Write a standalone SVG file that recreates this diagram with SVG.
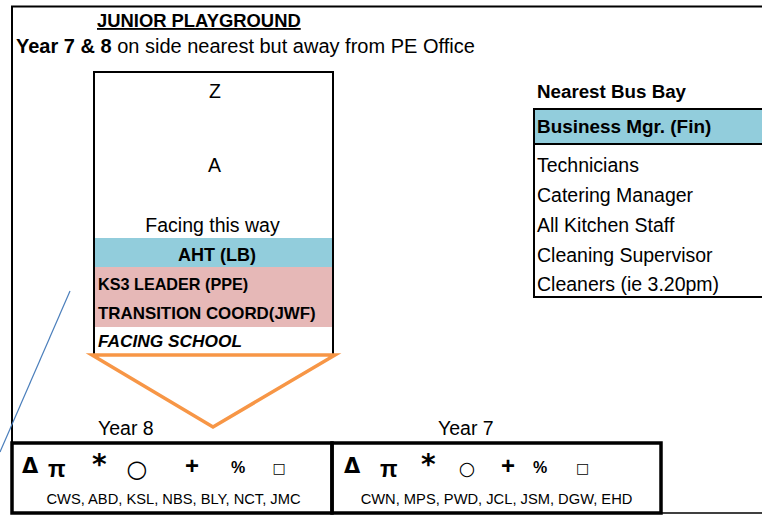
<svg xmlns="http://www.w3.org/2000/svg" width="762" height="515" viewBox="0 0 762 515">
<style>
text{font-family:"Liberation Sans",Arial,sans-serif;fill:#000}
.r{font-size:19.5px}
.b{font-weight:bold}
.c{text-anchor:middle}
.sym{font-family:"DejaVu Sans","Liberation Sans",sans-serif}
.delta{font-family:"DejaVu Sans","Liberation Sans",sans-serif;font-weight:bold;font-size:21px}
.pi{font-weight:bold;font-size:23px}
.ast{font-family:"DejaVu Sans","Liberation Sans",sans-serif;font-weight:bold;font-size:28px}
.plus{font-weight:bold;font-size:24px}
.pct{font-weight:bold;font-size:16px}
.sq{font-family:"DejaVu Sans","Liberation Sans",sans-serif;font-size:14px;text-anchor:middle}
.names{font-size:14.7px;text-anchor:middle}
.frame{fill:none;stroke:#000;stroke-width:2}
.thick{fill:none;stroke:#000;stroke-width:3.5}
</style>
<rect width="762" height="515" fill="#fff"/>
<g id="frame">
<path class="frame" d="M12,443 V6.5 H762"/>
<path d="M661,513 H762" stroke="#000" stroke-width="1.5" fill="none"/>
</g>
<g id="title">
<text x="97" y="27" class="b" font-size="18.4px" text-decoration="underline">JUNIOR PLAYGROUND</text>
</g>
<g id="subtitle">
<text x="16" y="53" font-size="20px"><tspan font-weight="bold">Year 7 &amp; 8</tspan> on side nearest but away from PE Office</text>
</g>
<g id="staff-line">
<rect x="95" y="238" width="237" height="29" fill="#92CDDC"/>
<rect x="95" y="267" width="237" height="60" fill="#E6B8B7"/>
<rect class="frame" x="94" y="72" width="239" height="283"/>
<text x="215" y="98" class="r c">Z</text>
<text x="214.5" y="172" class="r c">A</text>
<text x="212.5" y="232" class="r c">Facing this way</text>
<text x="217" y="261" class="b c" font-size="18px">AHT (LB)</text>
<text x="98" y="290" class="b" font-size="16.2px">KS3 LEADER (PPE)</text>
<text x="98" y="319" class="b" font-size="16.9px">TRANSITION COORD(JWF)</text>
<text x="98" y="347" class="b" font-size="17.3px" font-style="italic">FACING SCHOOL</text>
</g>
<g id="bus-bay">
<text x="537" y="98" class="b" font-size="18.75px">Nearest Bus Bay</text>
<rect x="534" y="109" width="230" height="35" fill="#92CDDC"/>
<path class="frame" d="M764,109 H534 V297 H764 M534,144 H764"/>
<text x="537" y="133" class="b" font-size="18.9px">Business Mgr. (Fin)</text>
<text x="537" y="172" class="r">Technicians</text>
<text x="537" y="202" class="r">Catering Manager</text>
<text x="537" y="232" class="r">All Kitchen Staff</text>
<text x="537" y="262" class="r">Cleaning Supervisor</text>
<text x="537" y="291" class="r">Cleaners (ie 3.20pm)</text>
</g>
<g id="year8">
<text x="98" y="435" class="r">Year 8</text>
<rect class="thick" x="12" y="443" width="320" height="70"/>
<text x="22" y="473" class="delta">Δ</text>
<text x="48" y="477" class="pi">π</text>
<text x="92" y="474" class="ast">*</text>
<text x="137" y="477" class="sym c" font-size="24px">○</text>
<text x="185" y="474" class="plus">+</text>
<text x="231" y="473" class="pct">%</text>
<text x="279" y="473" class="sq">□</text>
<text x="173.5" y="504" class="names">CWS, ABD, KSL, NBS, BLY, NCT, JMC</text>
</g>
<g id="year7">
<text x="438" y="435" class="r">Year 7</text>
<rect class="thick" x="332" y="443" width="329" height="70"/>
<text x="344" y="473" class="delta">Δ</text>
<text x="380" y="477" class="pi">π</text>
<text x="421" y="474" class="ast">*</text>
<text x="467" y="475" class="sym c" font-size="19px">○</text>
<text x="501" y="474" class="plus">+</text>
<text x="533" y="473" class="pct">%</text>
<text x="582.5" y="473" class="sq">□</text>
<text x="496.5" y="504" class="names">CWN, MPS, PWD, JCL, JSM, DGW, EHD</text>
</g>
<g id="connectors">
<polygon points="92,355 335,355 213,427" fill="none" stroke="#F79646" stroke-width="3.5" stroke-linejoin="miter"/>
<line x1="70" y1="291" x2="0" y2="452" stroke="#4A7EBB" stroke-width="1.2"/>
</g>
</svg>
